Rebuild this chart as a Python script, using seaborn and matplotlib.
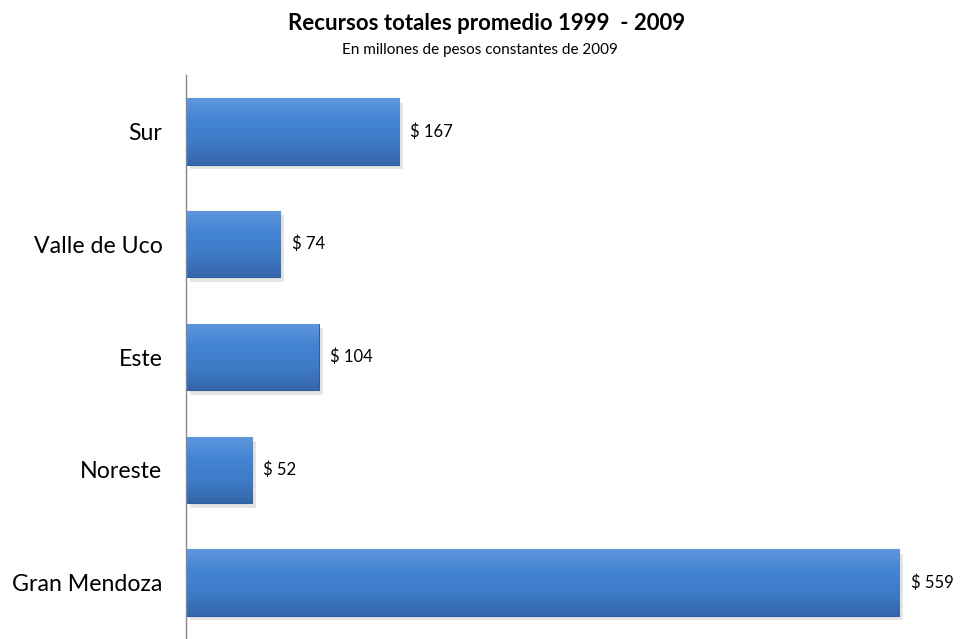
import numpy as np
import pandas as pd
import matplotlib
matplotlib.use('Agg')
import matplotlib.pyplot as plt
import seaborn as sns

regiones = ['Sur', 'Valle de Uco', 'Este', 'Noreste', 'Gran Mendoza']
recursos = [167, 74, 104, 52, 559]

df = pd.DataFrame({'Region': regiones, 'Recursos': recursos})

sns.set_style('white')
plt.rcParams['font.family'] = ['Lato', 'DejaVu Sans']
plt.rcParams['text.color'] = 'black'
plt.rcParams['ytick.color'] = 'black'

fig = plt.figure(figsize=(9.62, 6.39), dpi=100)
ax = fig.add_axes([186 / 962, 0, 1 - 186 / 962, 564 / 639])

sns.barplot(data=df, y='Region', x='Recursos', color='#3F7FCF', width=0.59,
            edgecolor='#2F5E9E', linewidth=0.8, ax=ax)

# degradado vertical dentro de cada barra
grad = np.linspace(0, 1, 100).reshape(-1, 1)
cmap = matplotlib.colors.LinearSegmentedColormap.from_list(
    'bar', ['#5F97DD', '#4384D3', '#3E7BC7', '#3566AB'])
for p in ax.patches:
    x0, y0 = p.get_x(), p.get_y()
    w, h = p.get_width(), p.get_height()
    # sombra
    sh = plt.Rectangle((x0 + 3, y0 + 0.04), w, h, color='#000000', alpha=0.10,
                       zorder=p.get_zorder() - 0.1, linewidth=0)
    ax.add_patch(sh)
    im = ax.imshow(grad, extent=[x0, x0 + w, y0 + h, y0], aspect='auto',
                   cmap=cmap, zorder=p.get_zorder() + 0.05)
    im.set_clip_path(p)

for i, v in enumerate(recursos):
    ax.annotate(f'$ {v}', xy=(v, i), xytext=(8, 0), textcoords='offset points',
                ha='left', va='center', fontsize=12, color='black')

ax.set_xlim(0, 608)
ax.set_ylim(4.5, -0.5)
ax.set_xlabel('')
ax.set_ylabel('')
ax.set_xticks([])
ax.tick_params(axis='y', length=0, pad=17, labelsize=16.7, labelcolor='black')
for s in ['top', 'right', 'bottom']:
    ax.spines[s].set_visible(False)
ax.spines['left'].set_color('#888888')
ax.spines['left'].set_linewidth(1)

fig.text(487 / 962, 1 - 24 / 639, 'Recursos totales promedio 1999  - 2009',
         ha='center', va='center', fontsize=16, fontweight='bold', color='black')
fig.text(480 / 962, 1 - 50 / 639, 'En millones de pesos constantes de 2009',
         ha='center', va='center', fontsize=11, color='black')

fig.savefig('out.png', dpi=100)
